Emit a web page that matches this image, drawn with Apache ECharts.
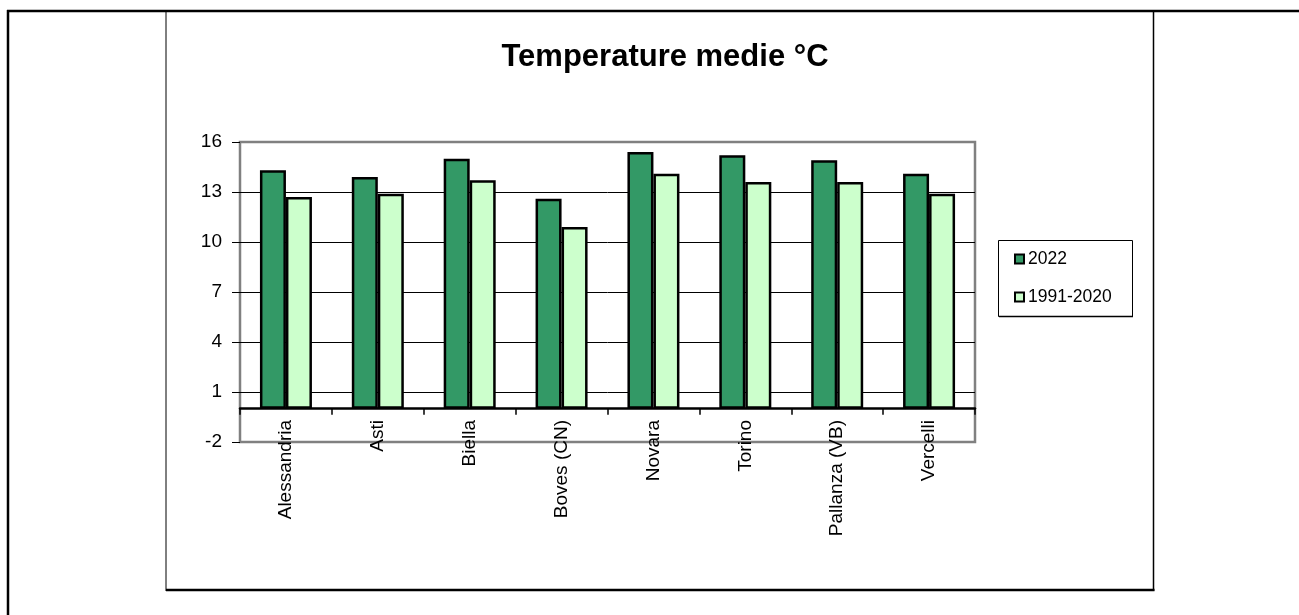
<!DOCTYPE html>
<html>
<head>
<meta charset="utf-8">
<script src="https://cdn.jsdelivr.net/npm/echarts@6/dist/echarts.min.js"></script>
<style>
html,body{margin:0;padding:0;background:#fff;}
#chart{width:1299px;height:615px;}
</style>
</head>
<body>
<div id="chart"></div>
<script>
const categories = ['Alessandria', 'Asti', 'Biella', 'Boves (CN)', 'Novara', 'Torino', 'Pallanza (VB)', 'Vercelli'];
const seriesNames = ['2022', '1991-2020'];
const values2022 = [14.3, 13.9, 15.0, 12.6, 15.4, 15.2, 14.9, 14.1];
const values1991_2020 = [12.7, 12.9, 13.7, 10.9, 14.1, 13.6, 13.6, 12.9];
const yMin = -2, yMax = 16, yStep = 3;

const FONT = 'Liberation Sans, Arial, sans-serif';
const chart = echarts.init(document.getElementById('chart'), null, {renderer: 'canvas'});

const barStyle = (color) => ({color: color, borderColor: '#000', borderWidth: 2.5});

chart.setOption({
  animation: false,
  backgroundColor: '#fff',
  title: {
    text: 'Temperature medie °C',
    left: 660,
    textAlign: 'center',
    top: 37,
    textStyle: {fontFamily: FONT, fontWeight: 'bold', fontSize: 31, color: '#000'}
  },
  legend: {
    orient: 'vertical',
    left: 1014,
    top: 250,
    itemWidth: 9,
    itemHeight: 9,
    itemGap: 20,
    padding: 0,
    data: seriesNames.map(n => ({name: n, icon: 'rect'})),
    textStyle: {fontFamily: FONT, fontSize: 17.5, color: '#000', padding: [0, 0, 0, -1]},
    itemStyle: {borderColor: '#000', borderWidth: 2}
  },
  grid: {
    left: 240, right: 324, top: 142, bottom: 173,
    show: true, borderColor: '#808080', borderWidth: 2.5, backgroundColor: 'transparent'
  },
  xAxis: {
    type: 'category',
    data: categories,
    axisLine: {onZero: true, lineStyle: {color: '#000', width: 2.5}},
    axisTick: {show: true, length: 6, lineStyle: {color: '#000', width: 1.5}},
    axisLabel: {rotate: 90, margin: -22, fontFamily: FONT, fontSize: 19, color: '#000'},
    splitLine: {show: false}
  },
  yAxis: {
    type: 'value',
    min: yMin, max: yMax, interval: yStep,
    axisLine: {show: false},
    axisTick: {show: true, length: 8, lineStyle: {color: '#000', width: 1}},
    axisLabel: {margin: 18, fontFamily: FONT, fontSize: 19, color: '#000'},
    splitLine: {show: true, showMinLine: false, showMaxLine: false, lineStyle: {color: '#000', width: 1}}
  },
  series: [
    {name: seriesNames[0], type: 'bar', data: values2022, barWidth: 26, barGap: '0%', itemStyle: barStyle('#339966')},
    {name: seriesNames[1], type: 'bar', data: values1991_2020, barWidth: 26, barGap: '0%', itemStyle: barStyle('#CCFFCC')}
  ],
  graphic: [
    {type: 'line', shape: {x1: 7, y1: 11, x2: 1299, y2: 11}, style: {stroke: '#000', lineWidth: 2.5}, silent: true},
    {type: 'line', shape: {x1: 8, y1: 10, x2: 8, y2: 615}, style: {stroke: '#000', lineWidth: 2.5}, silent: true},
    {type: 'line', shape: {x1: 166, y1: 11, x2: 166, y2: 591}, style: {stroke: '#000', lineWidth: 1}, silent: true},
    {type: 'line', shape: {x1: 1153.5, y1: 11, x2: 1153.5, y2: 591}, style: {stroke: '#000', lineWidth: 1.5}, silent: true},
    {type: 'line', shape: {x1: 166, y1: 590, x2: 1154.5, y2: 590}, style: {stroke: '#000', lineWidth: 2.5}, silent: true},
    {type: 'rect', shape: {x: 998.5, y: 240.5, width: 134, height: 76}, style: {fill: 'none', stroke: '#000', lineWidth: 1}, silent: true, z: -1},
    {type: 'line', shape: {x1: 999, y1: 316.5, x2: 1133, y2: 316.5}, style: {stroke: '#000', lineWidth: 1.5}, silent: true}
  ]
});
</script>
</body>
</html>
